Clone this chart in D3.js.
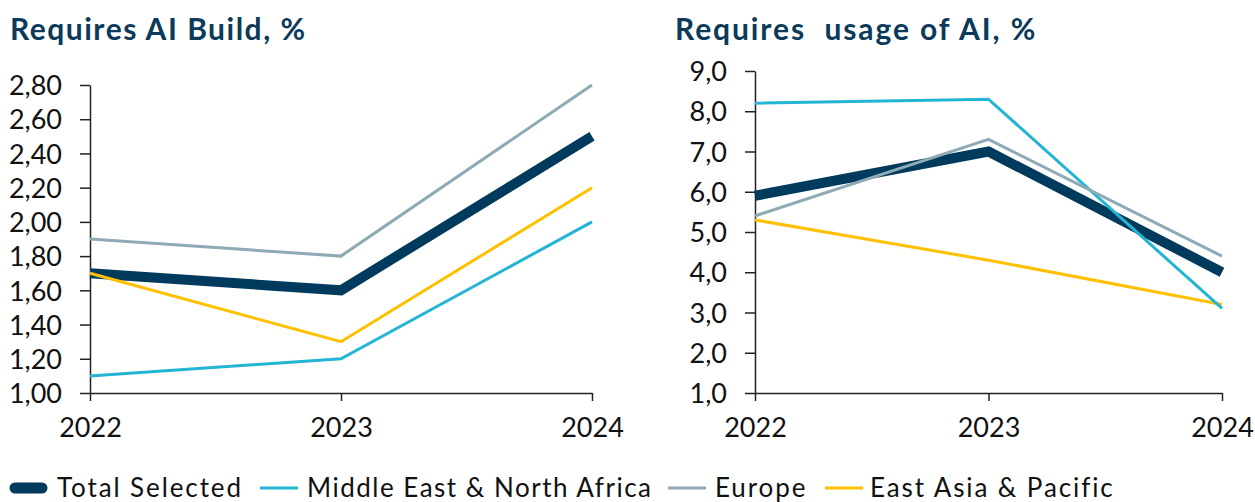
<!DOCTYPE html>
<html>
<head>
<meta charset="utf-8">
<script src="https://cdn.jsdelivr.net/npm/d3@7"></script>
<style>
  body { margin: 0; background: #fff; }
  text { font-family: Lato, "Open Sans", sans-serif; }
</style>
</head>
<body>
<svg id="chart" width="1255" height="502"></svg>
<script>
var years = ["2022", "2023", "2024"];
var seriesNames = ["Total Selected", "Middle East & North Africa", "Europe", "East Asia & Pacific"];
var colors = ["#003a5c", "#23b5d3", "#8eaab5", "#ffc000"];
var widths = [10, 3, 3, 3];

// Requires AI Build, %
var buildTotal = [1.70, 1.60, 2.50],
    buildMena = [1.10, 1.20, 2.00],
    buildEurope = [1.90, 1.80, 2.80],
    buildAsia = [1.70, 1.30, 2.20];
var buildTicks = [1.0, 1.2, 1.4, 1.6, 1.8, 2.0, 2.2, 2.4, 2.6, 2.8];

// Requires usage of AI, %
var usageTotal = [5.9, 7.0, 4.0],
    usageMena = [8.2, 8.3, 3.1],
    usageEurope = [5.4, 7.3, 4.4],
    usageAsia = [5.3, 4.3, 3.2];
var usageTicks = [1, 2, 3, 4, 5, 6, 7, 8, 9];

var svg = d3.select("#chart");
var comma = d3.formatLocale({decimal: ",", thousands: ".", grouping: [3], currency: ["", ""]});

function drawPanel(opts) {
  var x = d3.scalePoint()
    .domain(years)
    .range([opts.left, opts.right]);

  var y = d3.scaleLinear()
    .domain(opts.domain)
    .range([393, opts.top]);

  var g = svg.append("g");

  g.append("text")
    .attr("x", opts.titleX)
    .attr("y", 40)
    .attr("fill", "#0b3a5a")
    .style("font-weight", "bold")
    .style("font-size", "30px")
    .style("letter-spacing", opts.titleSpacing)
    .attr("xml:space", "preserve")
    .text(opts.title);

  // y axis
  g.append("g")
    .attr("transform", "translate(" + opts.left + ",0)")
    .call(d3.axisLeft(y)
      .tickValues(opts.ticks)
      .tickFormat(comma.format(opts.fmt))
      .tickSize(10)
      .tickSizeOuter(0)
      .tickPadding(18))
    .call(styleAxis)
    .selectAll("text")
    .attr("dy", "0.36em");

  // x axis
  g.append("g")
    .attr("transform", "translate(0,393)")
    .call(d3.axisBottom(x)
      .tickSize(8)
      .tickSizeOuter(0)
      .tickPadding(17))
    .call(styleAxis);

  var line = d3.line()
    .x(function(d, i) { return x(years[i]); })
    .y(function(d) { return y(d); });

  // total goes underneath, the thin regional lines cross over it
  var order = [0, 3, 1, 2];
  order.forEach(function(k) {
    g.append("path")
      .attr("d", line(opts.series[k]))
      .attr("fill", "none")
      .attr("stroke", colors[k])
      .attr("stroke-width", widths[k])
      .attr("stroke-linejoin", "miter");
  });
}

function styleAxis(sel) {
  sel.select(".domain").attr("stroke", "#222").attr("stroke-width", 1.5);
  sel.selectAll(".tick line").attr("stroke", "#222").attr("stroke-width", 1.5);
  sel.selectAll(".tick text")
    .attr("fill", "#111")
    .style("font-family", "Lato, sans-serif")
    .style("font-size", "27px");
}

drawPanel({
  title: "Requires AI Build, %",
  titleX: 10,
  titleSpacing: "1.5px",
  left: 90, right: 592, top: 85,
  domain: [1.0, 2.8],
  ticks: buildTicks,
  fmt: ".2f",
  series: [buildTotal, buildMena, buildEurope, buildAsia]
});

drawPanel({
  title: "Requires  usage of AI, %",
  titleX: 675,
  titleSpacing: "1.9px",
  left: 755, right: 1222, top: 71,
  domain: [1, 9],
  ticks: usageTicks,
  fmt: ".1f",
  series: [usageTotal, usageMena, usageEurope, usageAsia]
});

// legend
var legendX = [10, 260, 668, 825];
var legend = svg.append("g").attr("transform", "translate(0,488)");
seriesNames.forEach(function(name, i) {
  var item = legend.append("g").attr("transform", "translate(" + legendX[i] + ",0)");
  item.append("line")
    .attr("x1", i === 0 ? 5 : 0)
    .attr("x2", i === 0 ? 32 : 38)
    .attr("stroke", colors[i])
    .attr("stroke-width", i === 0 ? 11 : 3)
    .attr("stroke-linecap", i === 0 ? "round" : "butt");
  item.append("text")
    .attr("x", i === 3 ? 45 : 47)
    .attr("y", 9)
    .attr("fill", "#111")
    .style("font-size", "26px")
    .style("letter-spacing", i === 1 ? "1.5px" : "1.9px")
    .text(name);
});
</script>
</body>
</html>
